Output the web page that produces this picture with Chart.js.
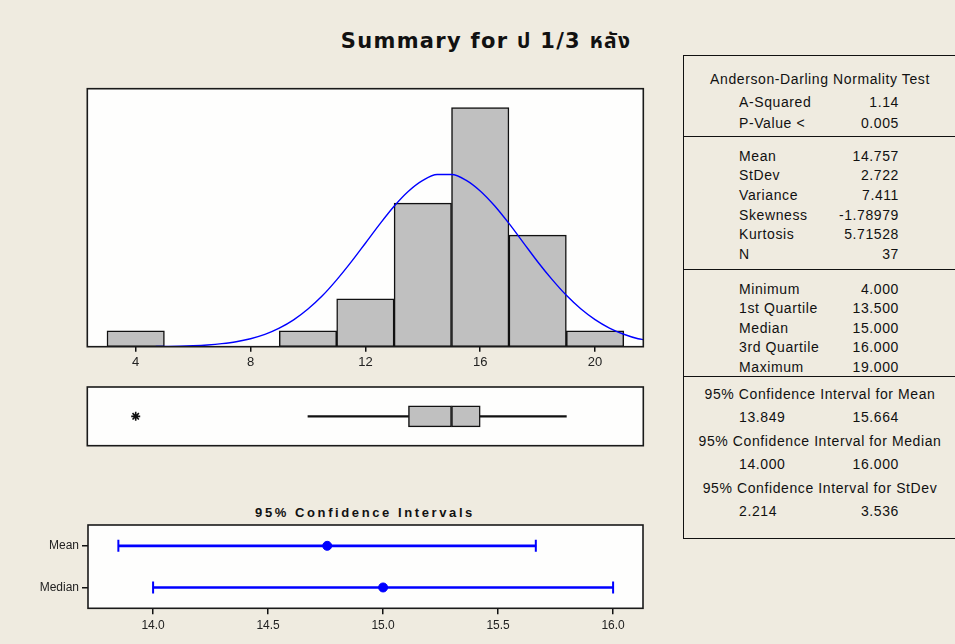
<!DOCTYPE html>
<html>
<head>
<meta charset="utf-8">
<script src="https://cdn.jsdelivr.net/npm/chart.js@4.4.0/dist/chart.umd.min.js"></script>
<style>
  html, body { margin: 0; padding: 0; }
  body {
    width: 955px; height: 644px; overflow: hidden; position: relative;
    background: #efebe0;
    font-family: "Liberation Sans", Arial, sans-serif;
  }
  canvas { position: absolute; }
  #title {
    position: absolute; left: 186px; width: 600px; top: 26px;
    text-align: center; color: #111; letter-spacing: 1.3px;
    font: bold 21px "DejaVu Sans", "Noto Sans", "Noto Sans Thai", Loma, Garuda, sans-serif;
  }
  #ciTitle {
    position: absolute; left: 165px; width: 400px; top: 505px;
    text-align: center; color: #111; letter-spacing: 2.6px;
    font: bold 13px "Liberation Sans", Arial, sans-serif;
  }
  #stats {
    position: absolute; left: 683px; top: 55px; width: 272px;
    border: 1.5px solid #111; border-right: none;
    font-size: 14px; letter-spacing: 0.6px; color: #111;
  }
  .sec { position: relative; box-sizing: border-box; }
  .sec + .sec { border-top: 1.5px solid #111; }
  .row { position: relative; }
  .row .lab { position: absolute; left: 55px; top: 50%; transform: translateY(-50%); white-space: nowrap; }
  .row .val { position: absolute; right: 57px; top: 50%; transform: translateY(-50%); white-space: nowrap; }
  .row .head { position: absolute; left: 0; right: 0; text-align: center; top: 50%; transform: translateY(-50%); white-space: nowrap; }
</style>
</head>
<body>
<div id="title">Summary for ป 1/3 หลัง</div>
<canvas id="histChart" width="580" height="300" style="left:77px; top:80px;"></canvas>
<canvas id="boxChart" width="580" height="75" style="left:77px; top:380px;"></canvas>
<div id="ciTitle">95% Confidence Intervals</div>
<canvas id="ciChart" width="660" height="149" style="left:0px; top:495px;"></canvas>
<div id="stats"></div>

<script>
// --- Datos del histograma ---
const binCenters = [4, 6, 8, 10, 12, 14, 16, 18, 20];
const binCounts = [1, 0, 0, 1, 3, 9, 15, 7, 1];
const histTicks = [4, 8, 12, 16, 20];

// curva normal ajustada
const curveX = [4.7, 5.5, 6, 6.5, 7, 7.5, 8, 8.5, 9, 9.5, 10, 10.5, 11, 11.5, 12, 12.5, 13, 13.5,
                14, 14.5, 15, 15.5, 16, 16.5, 17, 17.5, 18, 18.5, 19, 19.5, 20, 20.5, 21, 21.5, 21.7];
const curveY = [0.01, 0.03, 0.06, 0.11, 0.19, 0.31, 0.50, 0.77, 1.16, 1.68, 2.36, 3.19, 4.19, 5.30, 6.49, 7.69, 8.81, 9.75,
                10.43, 10.80, 10.80, 10.45, 9.77, 8.84, 7.73, 6.53, 5.33, 4.22, 3.22, 2.38, 1.70, 1.17, 0.78, 0.50, 0.44];

// --- Datos del boxplot ---
const boxWhiskers = [10, 19];
const boxQuartiles = [13.5, 15, 16];
const boxOutliers = [4];

// --- Intervalos de confianza ---
const ciLabels = ['Mean', 'Median'];
const ciLower = [13.849, 14.0];
const ciCenter = [14.757, 15.0];
const ciUpper = [15.664, 16.0];
const ciTicks = [14.0, 14.5, 15.0, 15.5, 16.0];

// --- Tabla de resumen ---
const adTitle = 'Anderson-Darling Normality Test';
const adRows = [['A-Squared', '1.14'], ['P-Value <', '0.005']];
const momentRows = [['Mean', '14.757'], ['StDev', '2.722'], ['Variance', '7.411'],
                    ['Skewness', '-1.78979'], ['Kurtosis', '5.71528'], ['N', '37']];
const quantileRows = [['Minimum', '4.000'], ['1st Quartile', '13.500'], ['Median', '15.000'],
                      ['3rd Quartile', '16.000'], ['Maximum', '19.000']];
const intervalRows = [['95% Confidence Interval for Mean', '13.849', '15.664'],
                      ['95% Confidence Interval for Median', '14.000', '16.000'],
                      ['95% Confidence Interval for StDev', '2.214', '3.536']];

const X_MIN = 2.314, X_MAX = 21.68;
const tickFont = { family: '"Liberation Sans", Arial, sans-serif', size: 13 };

// fondo blanco y marco negro del area de dibujo
const framePlugin = {
    id: 'frame',
    beforeDraw(chart) {
        const { ctx, chartArea: a } = chart;
        ctx.save();
        ctx.fillStyle = 'rgba(255,255,255,0.92)';
        ctx.fillRect(a.left, a.top, a.width, a.height);
        ctx.restore();
    },
    afterDraw(chart) {
        const { ctx, chartArea: a } = chart;
        ctx.save();
        ctx.strokeStyle = '#1a1a1a';
        ctx.lineWidth = 1.6;
        ctx.strokeRect(a.left, a.top, a.width, a.height);
        ctx.restore();
    }
};

function createHistChart(ctx) {
    new Chart(ctx, {
        type: 'bar',
        data: {
            datasets: [{
                type: 'line',
                data: curveX.map((x, i) => ({ x: x, y: curveY[i] })),
                borderColor: '#0000ff',
                borderWidth: 1.4,
                pointRadius: 0,
                cubicInterpolationMode: 'monotone',
                order: 1
            }, {
                type: 'bar',
                data: binCenters.map((x, i) => ({ x: x, y: binCounts[i] })),
                backgroundColor: '#c0c0c0',
                borderColor: '#111',
                borderWidth: 1.5,
                borderSkipped: false,
                barPercentage: 1,
                categoryPercentage: 1,
                order: 2
            }]
        },
        options: {
            responsive: false,
            animation: false,
            layout: { padding: { left: 10.3, top: 8.7, right: 13.7, bottom: 3.3 } },
            scales: {
                x: {
                    type: 'linear', min: X_MIN, max: X_MAX, offset: false,
                    afterBuildTicks: s => { s.ticks = histTicks.map(v => ({ value: v })); },
                    afterFit: s => { s.height = 30; },
                    border: { display: false },
                    grid: { offset: false, drawOnChartArea: false, tickLength: 5, color: '#111', lineWidth: 1.5 },
                    ticks: { color: '#222', font: tickFont, padding: 3, maxRotation: 0 }
                },
                y: { type: 'linear', min: 0, max: 16.18, display: false }
            },
            plugins: { legend: { display: false }, tooltip: { enabled: false } }
        },
        plugins: [framePlugin]
    });
}

function createBoxChart(ctx) {
    const row = 0.5;
    const piece = (range, extra) => Object.assign({
        type: 'bar', indexAxis: 'y', grouped: false,
        data: [{ x: range, y: row }]
    }, extra);
    const whisker = { backgroundColor: '#111', borderWidth: 0, barThickness: 1.5 };
    const box = { backgroundColor: '#c0c0c0', borderColor: '#111', borderWidth: 1.5, borderSkipped: false, barThickness: 21 };

    new Chart(ctx, {
        type: 'bar',
        data: {
            datasets: [
                piece([boxWhiskers[0], boxQuartiles[0]], whisker),
                piece([boxQuartiles[2], boxWhiskers[1]], whisker),
                piece([boxQuartiles[0], boxQuartiles[1]], box),
                piece([boxQuartiles[1], boxQuartiles[2]], box),
                {
                    type: 'scatter', indexAxis: 'x',
                    data: boxOutliers.map(v => ({ x: v, y: row })),
                    pointStyle: 'star', pointRadius: 4.5,
                    borderColor: '#111', borderWidth: 1.6
                }
            ]
        },
        options: {
            responsive: false,
            animation: false,
            indexAxis: 'y',
            layout: { padding: { left: 10.3, top: 7, right: 13.7, bottom: 9.3 } },
            scales: {
                x: { type: 'linear', min: X_MIN, max: X_MAX, offset: false, display: false },
                y: { type: 'linear', min: 0, max: 1, offset: false, display: false }
            },
            plugins: { legend: { display: false }, tooltip: { enabled: false } }
        },
        plugins: [framePlugin]
    });
}

function createCiChart(ctx) {
    new Chart(ctx, {
        type: 'bar',
        data: {
            labels: ciLabels,
            datasets: [{
                type: 'scatter', indexAxis: 'x',
                data: ciLabels.map((l, i) => ({ x: ciCenter[i], y: l })),
                pointStyle: 'circle', pointRadius: 4.5,
                backgroundColor: '#0000ff', borderColor: '#0000ff', borderWidth: 1,
                order: 1
            }, {
                type: 'scatter', indexAxis: 'x',
                data: ciLabels.flatMap((l, i) => [{ x: ciLower[i], y: l }, { x: ciUpper[i], y: l }]),
                pointStyle: 'line', rotation: 90, pointRadius: 6,
                borderColor: '#0000ff', borderWidth: 2,
                order: 2
            }, {
                type: 'bar', indexAxis: 'y', grouped: false,
                data: ciLabels.map((l, i) => ({ x: [ciLower[i], ciUpper[i]], y: l })),
                backgroundColor: '#0000ff', borderWidth: 0, barThickness: 2,
                order: 3
            }]
        },
        options: {
            responsive: false,
            animation: false,
            indexAxis: 'y',
            layout: { padding: { left: 0, top: 30, right: 17, bottom: 0 } },
            scales: {
                x: {
                    type: 'linear', min: 13.717, max: 16.13, offset: false,
                    afterBuildTicks: s => { s.ticks = ciTicks.map(v => ({ value: v })); },
                    afterFit: s => { s.height = 35.7; },
                    border: { display: false },
                    grid: { offset: false, drawOnChartArea: false, tickLength: 6, color: '#111', lineWidth: 1.5 },
                    ticks: { color: '#222', font: { family: tickFont.family, size: 12 }, padding: 4, maxRotation: 0,
                             callback: v => Number(v).toFixed(1) }
                },
                y: {
                    type: 'category', labels: ciLabels, offset: true,
                    afterFit: s => { s.width = 88; },
                    border: { display: false },
                    grid: { offset: false, drawOnChartArea: false, tickLength: 6, color: '#111', lineWidth: 1.5 },
                    ticks: { color: '#222', font: { family: tickFont.family, size: 12 }, padding: 3 }
                }
            },
            plugins: { legend: { display: false }, tooltip: { enabled: false } }
        },
        plugins: [framePlugin]
    });
}

function buildStatsTable() {
    const box = document.getElementById('stats');
    const section = (height, padTop) => {
        const s = document.createElement('div');
        s.className = 'sec';
        s.style.height = height + 'px';
        s.style.paddingTop = padTop + 'px';
        box.appendChild(s);
        return s;
    };
    const addRow = (sec, h, cells, head) => {
        const r = document.createElement('div');
        r.className = 'row';
        r.style.height = h + 'px';
        if (head) {
            r.innerHTML = '<span class="head"></span>';
            r.firstChild.textContent = cells;
        } else {
            r.innerHTML = '<span class="lab"></span><span class="val"></span>';
            r.children[0].textContent = cells[0];
            r.children[1].textContent = cells[cells.length - 1];
        }
        sec.appendChild(r);
    };

    const s1 = section(80, 11);
    addRow(s1, 24, adTitle, true);
    adRows.forEach(r => addRow(s1, 21, r));

    const s2 = section(132.5, 9);
    momentRows.forEach(r => addRow(s2, 19.6, r));

    const s3 = section(107.5, 9.7);
    quantileRows.forEach(r => addRow(s3, 19.5, r));

    const s4 = section(161.5, 5);
    intervalRows.forEach(r => {
        addRow(s4, 23.5, r[0], true);
        addRow(s4, 23.5, [r[1], r[2]]);
    });
}

document.addEventListener('DOMContentLoaded', () => {
    createHistChart(document.getElementById('histChart').getContext('2d'));
    createBoxChart(document.getElementById('boxChart').getContext('2d'));
    createCiChart(document.getElementById('ciChart').getContext('2d'));
    buildStatsTable();
});
</script>
</body>
</html>
